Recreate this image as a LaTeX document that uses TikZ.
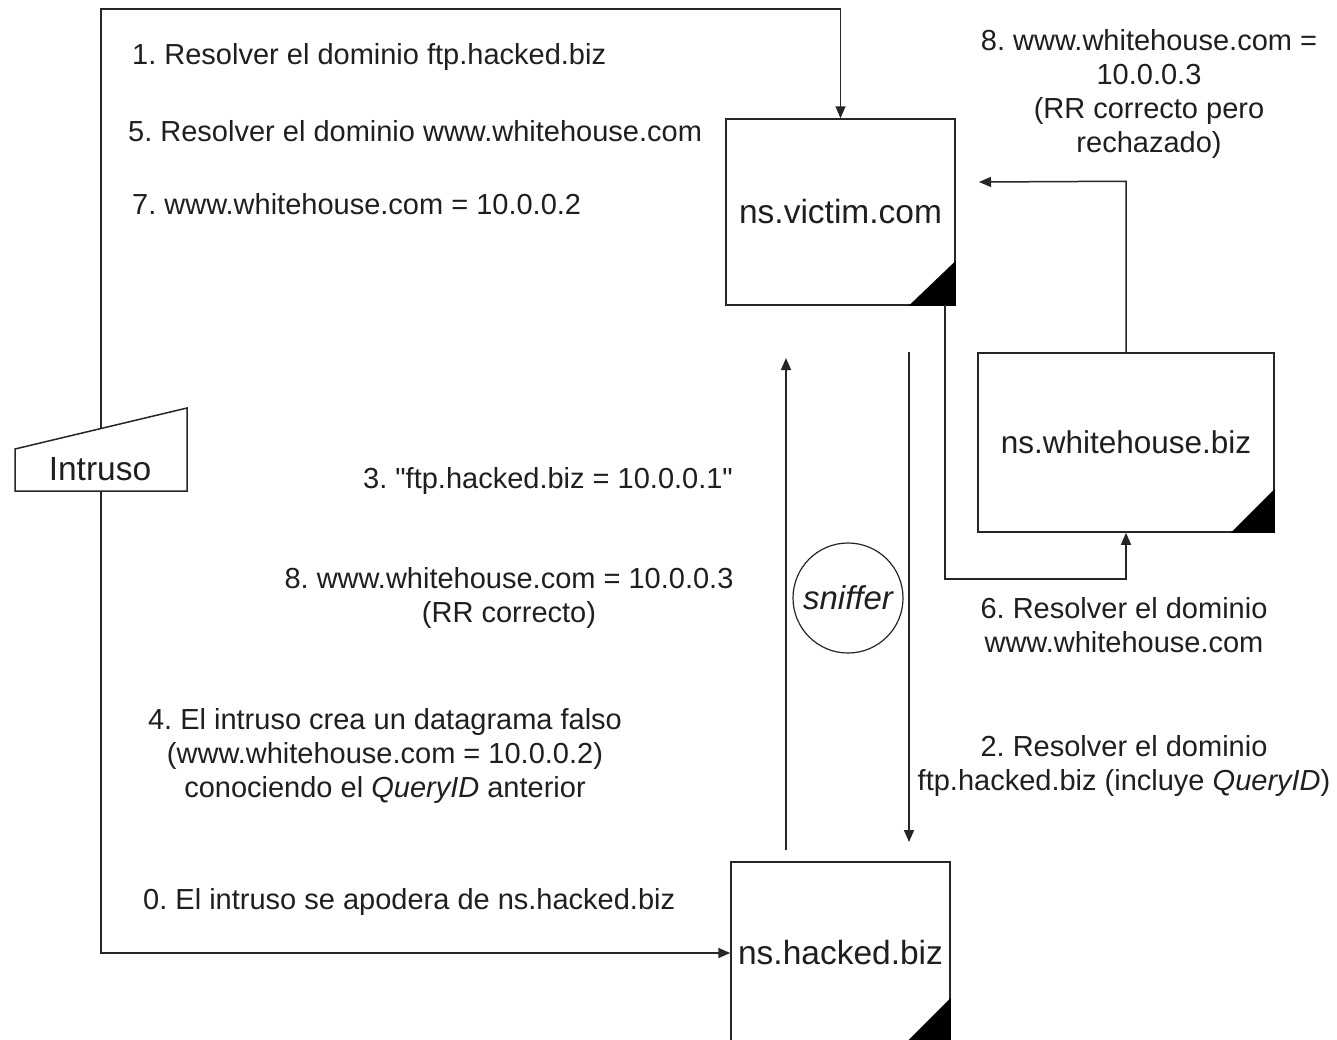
\documentclass[tikz,border=0pt]{standalone}
\usepackage{fontspec}
\setmainfont{Liberation Sans}
\usetikzlibrary{arrows.meta,calc}
\begin{document}
\frenchspacing
\begin{tikzpicture}[x=1pt,y=-1pt,
  every node/.style={text=black!88, inner sep=0pt},
  lbl/.style={font=\fontsize{29}{34}\selectfont, align=center},
  conn/.style={draw=black!85, line width=1.5pt},
  arr/.style={conn, -{Triangle[length=12pt,width=10pt]}},
  srvbox/.style={draw=black!85, line width=1.5pt, font=\fontsize{33.5}{40}\selectfont},
  corner/.style={fill=black}
]
\clip (0,0) rectangle (1337,1039);
\fill[white] (0,0) rectangle (1337,1039);

% servers
\node[srvbox, minimum width=229pt, minimum height=186pt] (victim) at (840.5,212) {ns.victim.com};
\node[srvbox, minimum width=219pt, minimum height=182pt] (hacked) at (840.5,953) {ns.hacked.biz};
\node[srvbox, minimum width=296pt, minimum height=179pt, font=\fontsize{31.5}{38}\selectfont] (white) at (1126,442.5) {ns.whitehouse.biz};
\fill[corner] (victim.south east) -- ++(-47,0) -- ++(47,-45) -- cycle;
\fill[corner] (hacked.south east) -- ++(-47,0) -- ++(47,-47) -- cycle;
\fill[corner] (white.south east) -- ++(-44,0) -- ++(44,-44) -- cycle;

% intruder
\draw[conn] (15,449) -- (187,408) -- (187,491) -- (15,491) -- cycle;
\node[font=\fontsize{33.5}{40}\selectfont] (intr) at (100,469) {Intruso};

% sniffer
\node[draw=black!85, circle, minimum size=110pt, line width=1.2pt, font=\itshape\fontsize{33}{40}\selectfont] (sniff) at (848,598) {sniffer};

% coordinates
\coordinate (itop) at (101,428.5);
\coordinate (ibot) at (101,491);
\coordinate (topy) at (0,9);
\coordinate (upS) at (786,850);
\coordinate (upN) at (786,358);
\coordinate (dnN) at (909,352);
\coordinate (dnS) at (909,842);
\coordinate (vout) at (945,305);
\coordinate (wbot) at ($(white.south)+(0,46)$);
\coordinate (wtop) at ($(white.north)+(0,-171)$);
\coordinate (vin) at (979,182);

% connectors
\draw[arr] (itop) |- (victim.north |- topy) -- (victim.north);
\draw[arr] (ibot) |- (hacked.west);
\draw[arr] (upS) -- (upN);
\draw[arr] (dnN) -- (dnS);
\draw[arr] (vout) |- (wbot) -- (white.south);
\draw[arr] (white.north) -- (wtop) -- (vin);

% labels
\node[lbl, anchor=west] (l1) at (132,57) {1. Resolver el dominio ftp.hacked.biz};
\node[lbl, anchor=west] (l5) at (128,131) {5. Resolver el dominio www.whitehouse.com};
\node[lbl, anchor=west] (l7) at (132,204) {7. www.whitehouse.com = 10.0.0.2};
\node[lbl] (l8a) at (1149,94) {8. www.whitehouse.com =\\10.0.0.3\\(RR correcto pero\\rechazado)};
\node[lbl] (l3) at (548,481) {3. \textquotedbl ftp.hacked.biz = 10.0.0.1\textquotedbl};
\node[lbl] (l8b) at (509,598) {8. www.whitehouse.com = 10.0.0.3\\(RR correcto)};
\node[lbl] (l4) at (385,756) {4. El intruso crea un datagrama falso\\(www.whitehouse.com = 10.0.0.2)\\conociendo el \textit{QueryID} anterior};
\node[lbl, anchor=west] (l0) at (143,902) {0. El intruso se apodera de ns.hacked.biz};
\node[lbl] (l6) at (1124,625) {6. Resolver el dominio\\www.whitehouse.com};
\node[lbl] (l2) at (1124,766) {2. Resolver el dominio\\ftp.hacked.biz (incluye \textit{QueryID})};
\end{tikzpicture}
\end{document}
